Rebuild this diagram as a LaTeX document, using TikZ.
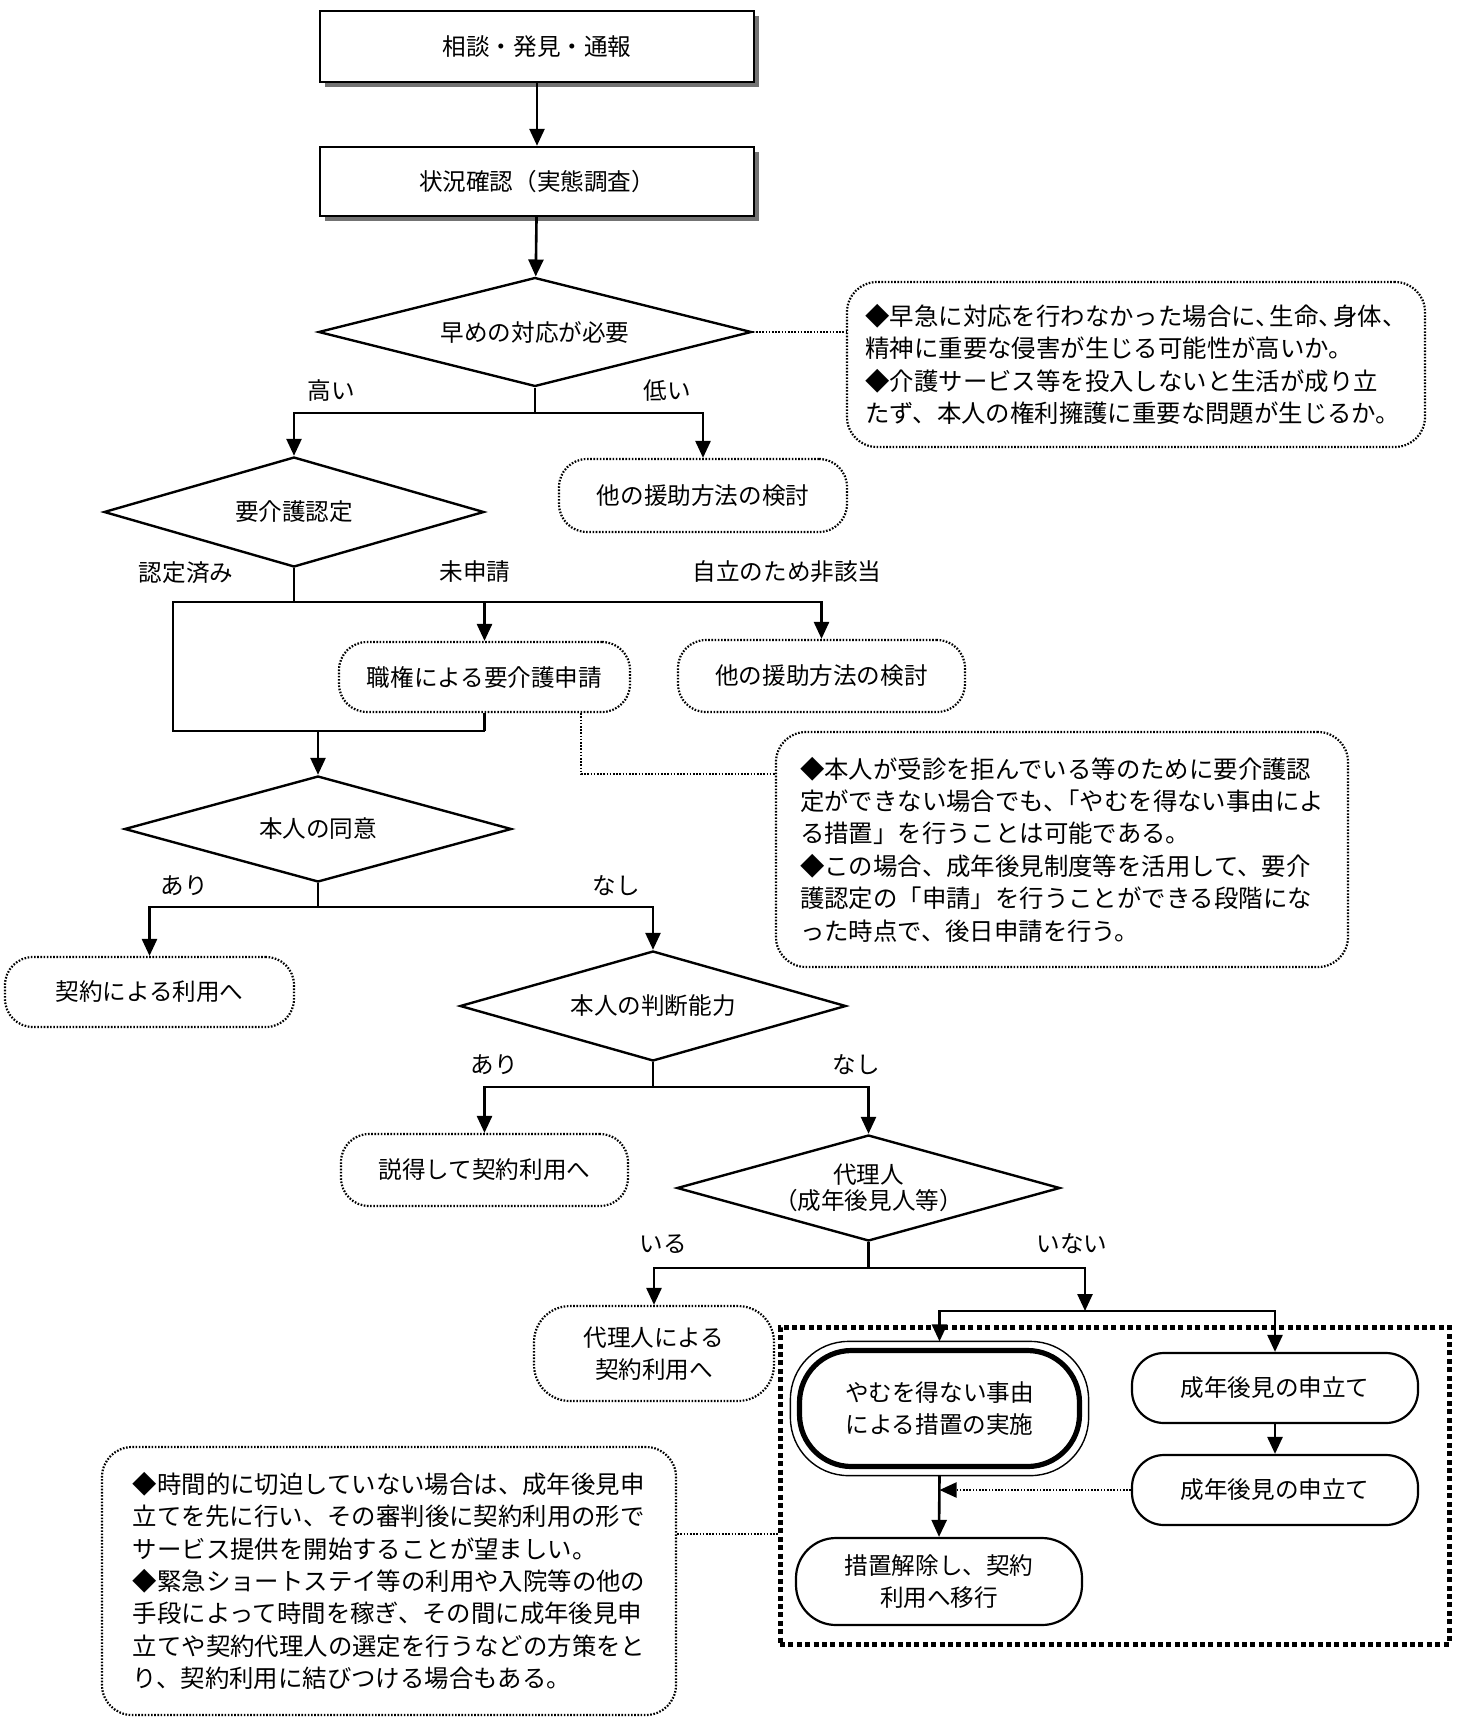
\documentclass[tikz,border=0pt]{standalone}
\usepackage{fontspec}
\setmainfont{Noto Sans CJK JP}
\usetikzlibrary{arrows.meta,shapes.geometric,shadows}
\begin{document}
\begin{tikzpicture}[x=0.5pt,y=-0.5pt,
 every node/.style={font=\fontsize{11.8}{16}\selectfont, inner sep=0pt},
 ln/.style={line width=1.3pt},
 arr/.style={line width=1.3pt,-{Triangle[length=8.5pt,width=7.5pt]}},
 dotln/.style={line width=1.1pt,dash pattern=on 0.8pt off 0.8pt},
 dotarr/.style={line width=1.1pt,dash pattern=on 0.8pt off 0.8pt,-{Triangle[length=8.5pt,width=7.5pt]}},
 shbox/.style={draw,line width=1.2pt,fill=white,drop shadow={shadow xshift=2.5pt,shadow yshift=-2.5pt,fill=black!55,opacity=1}},
 dia/.style={draw,diamond,line width=1.2pt,aspect=3.6},
 dbox/.style={draw,line width=1.1pt,dash pattern=on 0.8pt off 0.8pt,rounded corners=14pt,align=center},
 rbox/.style={draw,line width=1.1pt,rounded corners=16pt,align=center},
 note/.style={draw,line width=1.1pt,dash pattern=on 0.8pt off 0.8pt,rounded corners=15pt,align=left,font=\fontsize{12.2}{16.2}\selectfont},
]
\fill[white] (0,0) rectangle (1461,1718);
\useasboundingbox (0,0) rectangle (1461,1718);

% nodes
\node[shbox,minimum width=217pt,minimum height=35.5pt] (n1) at (537,46.5) {相談・発見・通報};
\node[shbox,minimum width=217pt,minimum height=34.5pt] (n2) at (537,181.5) {状況確認（実態調査）};
\node[dia,minimum width=216.5pt,minimum height=54.5pt] (d1) at (535,332) {早めの対応が必要};
\node[note,minimum width=289pt,minimum height=82.5pt] (t1) at (1136,364.5) {◆早急に対応を行わなかった場合に、\kern-.4em 生命、\kern-.4em 身体、\\精神に重要な侵害が生じる可能性が高いか。\\◆介護サービス等を投入しないと生活が成り立\\たず、本人の権利擁護に重要な問題が生じるか。};
\node (l1) at (331,391) {高い};
\node (l2) at (667,391) {低い};
\node[dbox,minimum width=144pt,minimum height=36.5pt] (b3) at (703,495.5) {他の援助方法の検討};
\node[dia,minimum width=190pt,minimum height=55pt] (d2) at (294,512) {要介護認定};
\node (l3) at (186,573) {認定済み};
\node (l4) at (475,572) {未申請};
\node (l5) at (787,572) {自立のため非該当};
\node[dbox,minimum width=145.5pt,minimum height=35pt] (b4) at (484.5,677) {職権による要介護申請};
\node[dbox,minimum width=143.5pt,minimum height=36pt] (b5) at (821.5,676) {他の援助方法の検討};
\node[note,minimum width=286pt,minimum height=117.5pt] (t2) at (1062,849.5) {◆本人が受診を拒んでいる等のために要介護認\\定ができない場合でも、\kern-.5em「やむを得ない事由によ\\る措置」を行うことは可能である。\\◆この場合、成年後見制度等を活用して、要介\\護認定の「申請」を行うことができる段階にな\\った時点で、後日申請を行う。};
\node[dia,minimum width=193.5pt,minimum height=53pt] (d3) at (318,829) {本人の同意};
\node (l6) at (184,886) {あり};
\node (l7) at (616,886) {なし};
\node[dbox,minimum width=144.5pt,minimum height=35pt] (b6) at (149.5,992) {契約による利用へ};
\node[dia,minimum width=193pt,minimum height=55pt] (d4) at (653,1006) {本人の判断能力};
\node (l8) at (494,1065) {あり};
\node (l9) at (856,1065) {なし};
\node[dbox,minimum width=143.5pt,minimum height=36pt] (b7) at (484.5,1170) {説得して契約利用へ};
\node[dia,minimum width=191.5pt,minimum height=53pt,align=center,font=\fontsize{11.8}{13}\selectfont] (d5) at (868.5,1188) {代理人\\（成年後見人等）};
\node (l10) at (663,1244) {いる};
\node (l11) at (1072,1244) {いない};
\node[dbox,minimum width=120pt,minimum height=47.5pt,rounded corners=18pt] (b8) at (654,1353.5) {代理人による\\契約利用へ};
\node[draw,line width=2.5pt,dash pattern=on 2.5pt off 1.7pt,minimum width=334.5pt,minimum height=158.5pt] (R) at (1114.5,1485.5) {};
\node[rbox,line width=2.6pt,rounded corners=26pt,minimum width=140pt,minimum height=58pt] (B) at (939.5,1408.5) {やむを得ない事由\\による措置の実施};
\draw[line width=0.7pt,rounded corners=29pt] ([shift={(-6.5,6.5)}]B.south west) rectangle ([shift={(6.5,-6.5)}]B.north east);
\node[rbox,minimum width=143pt,minimum height=35pt] (c1) at (1275,1388) {成年後見の申立て};
\node[rbox,minimum width=143pt,minimum height=35pt] (c2) at (1275,1490) {成年後見の申立て};
\node[rbox,rounded corners=20pt,minimum width=143pt,minimum height=43.5pt] (c3) at (939,1581.5) {措置解除し、契約\\利用へ移行};
\node[note,minimum width=287pt,minimum height=134pt] (t3) at (389,1581) {◆時間的に切迫していない場合は、成年後見申\\立てを先に行い、その審判後に契約利用の形で\\サービス提供を開始することが望ましい。\\◆緊急ショートステイ等の利用や入院等の他の\\手段によって時間を稼ぎ、その間に成年後見申\\立てや契約代理人の選定を行うなどの方策をと\\り、契約利用に結びつける場合もある。};

% coordinates
\coordinate (j1) at (535,413);
\coordinate (j2) at (294,602);
\coordinate (k2) at (173,731);
\coordinate (m2) at (581,774);
\coordinate (j3) at (318,907);
\coordinate (j4) at (653,1087);
\coordinate (j5) at (868.5,1268);
\coordinate (j6) at (1085,1311);
\coordinate (m3) at (676,1534);

% connectors
\draw[arr] (n1) -- (n2);
\draw[arr] (n2) -- (d1);
\draw[dotln] (d1.east) -- (t1.west |- d1.east);
\draw[ln] (d1.south) -- (j1);
\draw[arr] (j1) -| (d2.north);
\draw[arr] (j1) -| (b3.north);

\draw[ln] (d2.south) -- (j2);
\draw[arr] (j2) -| (b4.north);
\draw[arr] (j2) -| (b5.north);
\draw[ln] (j2) -| (k2) -- (b4.south |- k2);
\draw[ln] (b4.south) -- (b4.south |- k2);
\draw[arr] (d3.north |- k2) -- (d3.north);
\draw[dotln] (b4.south -| m2) |- (t2.west |- m2);

\draw[ln] (d3.south) -- (j3);
\draw[arr] (j3) -| (b6.north);
\draw[arr] (j3) -| (d4.north);

\draw[ln] (d4.south) -- (j4);
\draw[arr] (j4) -| (b7.north);
\draw[arr] (j4) -| (d5.north);

\draw[ln] (d5.south) -- (j5);
\draw[arr] (j5) -| (b8.north);
\draw[arr] (j5) -| (j6);
\draw[arr] (j6) -| ([yshift=3.25pt]B.north);
\draw[arr] (j6) -| (c1.north);
\draw[arr] (c1) -- (c2);
\draw[arr] ([yshift=-3.25pt]B.south) -- (c3.north);
\draw[dotarr] (c2.west) -- (c2.west -| B.south);
\draw[dotln] (t3.east |- m3) -- (R.west |- m3);
\end{tikzpicture}
\end{document}
